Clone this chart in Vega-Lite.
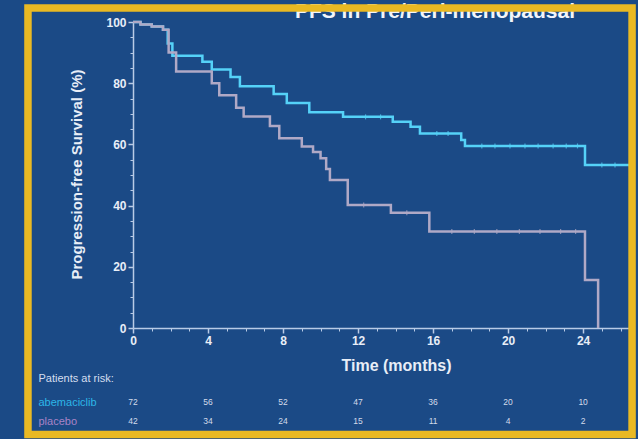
{
  "$schema": "https://vega.github.io/schema/vega-lite/v6.json",
  "width": 497,
  "height": 306,
  "autosize": {"type": "none"},
  "padding": {"left": 133, "top": 22, "right": 8, "bottom": 111},
  "background": "#1b4a86",
  "config": {"view": {"stroke": null}, "font": "Liberation Sans", "axis": {"grid": false}},
  "resolve": {"scale": {"y": "independent"}, "axis": {"x": "independent", "y": "independent"}},
  "layer": [
    {
      "data": {"values": [{"title": "PFS in Pre/Peri-menopausal"}]},
      "mark": {"type": "text", "fontSize": 21, "fontWeight": "bold", "color": "#f2f5fa", "baseline": "alphabetic", "align": "center", "clip": false},
      "encoding": {
        "x": {"datum": 16.1, "type": "quantitative", "scale": {"domain": [0, 26.5], "nice": false}, "axis": null},
        "y": {"datum": 101.2, "type": "quantitative", "scale": {"domain": [0, 100], "nice": false}, "axis": null},
        "text": {"field": "title"}
      }
    },
    {
      "data": {"values": [
        {"arm": "abemaciclib", "time": 0, "pfs": 100},
        {"arm": "abemaciclib", "time": 0.4, "pfs": 99.2},
        {"arm": "abemaciclib", "time": 1.0, "pfs": 98.5},
        {"arm": "abemaciclib", "time": 1.6, "pfs": 97.5},
        {"arm": "abemaciclib", "time": 1.85, "pfs": 93},
        {"arm": "abemaciclib", "time": 2.1, "pfs": 89},
        {"arm": "abemaciclib", "time": 3.7, "pfs": 87},
        {"arm": "abemaciclib", "time": 4.2, "pfs": 84.5},
        {"arm": "abemaciclib", "time": 5.2, "pfs": 82},
        {"arm": "abemaciclib", "time": 5.7, "pfs": 79},
        {"arm": "abemaciclib", "time": 7.5, "pfs": 76.5},
        {"arm": "abemaciclib", "time": 8.2, "pfs": 73.5},
        {"arm": "abemaciclib", "time": 9.4, "pfs": 70.5},
        {"arm": "abemaciclib", "time": 11.2, "pfs": 69},
        {"arm": "abemaciclib", "time": 13.85, "pfs": 67.4},
        {"arm": "abemaciclib", "time": 14.8, "pfs": 65.8},
        {"arm": "abemaciclib", "time": 15.3, "pfs": 63.6},
        {"arm": "abemaciclib", "time": 17.5, "pfs": 61.4},
        {"arm": "abemaciclib", "time": 17.7, "pfs": 59.5},
        {"arm": "abemaciclib", "time": 24.1, "pfs": 53.3},
        {"arm": "abemaciclib", "time": 26.5, "pfs": 53.3},
        {"arm": "placebo", "time": 0, "pfs": 100},
        {"arm": "placebo", "time": 0.4, "pfs": 99.2},
        {"arm": "placebo", "time": 1.0, "pfs": 98.5},
        {"arm": "placebo", "time": 1.6, "pfs": 97.5},
        {"arm": "placebo", "time": 1.9, "pfs": 90},
        {"arm": "placebo", "time": 2.3, "pfs": 83.8},
        {"arm": "placebo", "time": 4.2, "pfs": 80},
        {"arm": "placebo", "time": 4.6, "pfs": 76.1},
        {"arm": "placebo", "time": 5.5, "pfs": 72},
        {"arm": "placebo", "time": 5.9, "pfs": 69.1},
        {"arm": "placebo", "time": 7.3, "pfs": 66},
        {"arm": "placebo", "time": 7.8, "pfs": 62},
        {"arm": "placebo", "time": 9.0, "pfs": 59.3},
        {"arm": "placebo", "time": 9.6, "pfs": 57.5},
        {"arm": "placebo", "time": 10.0, "pfs": 55.5},
        {"arm": "placebo", "time": 10.3, "pfs": 52},
        {"arm": "placebo", "time": 10.5, "pfs": 48.4},
        {"arm": "placebo", "time": 11.45, "pfs": 40.2},
        {"arm": "placebo", "time": 13.75, "pfs": 37.7},
        {"arm": "placebo", "time": 15.8, "pfs": 31.5},
        {"arm": "placebo", "time": 24.1, "pfs": 15.7},
        {"arm": "placebo", "time": 24.8, "pfs": 0}
      ]},
      "mark": {"type": "line", "interpolate": "step-after", "strokeWidth": 2.5},
      "encoding": {
        "x": {"field": "time", "type": "quantitative", "scale": {"domain": [0, 26.5], "nice": false},
          "axis": {"orient": "bottom", "values": [0, 4, 8, 12, 16, 20, 24], "title": "Time (months)",
            "titleFontSize": 16, "titleFontWeight": "bold", "titleColor": "#e8eef7", "titleX": 263, "titleY": 37,
            "titleAlign": "center", "titleBaseline": "middle", "titleAnchor": null,
            "labelFontSize": 12, "labelFontWeight": "bold", "labelColor": "#e8eef7", "labelPadding": 2, "labelFlush": false,
            "tickSize": 5, "tickColor": "#b9cbe6", "tickWidth": 1.5, "domainColor": "#b9cbe6", "domainWidth": 1.5}},
        "y": {"field": "pfs", "type": "quantitative", "scale": {"domain": [0, 100], "nice": false},
          "axis": {"orient": "left", "values": [0, 20, 40, 60, 80, 100], "title": "Progression-free Survival (%)",
            "titleFontSize": 15, "titleFontWeight": "bold", "titleColor": "#e8eef7", "titleX": -57, "titleY": 152,
            "titleAngle": -90, "titleAlign": "center", "titleBaseline": "middle", "titleAnchor": null,
            "labelFontSize": 12, "labelFontWeight": "bold", "labelColor": "#e8eef7", "labelPadding": 2, "labelFlush": false,
            "tickSize": 5, "tickColor": "#b9cbe6", "tickWidth": 1.5, "domainColor": "#b9cbe6", "domainWidth": 1.5}},
        "color": {"field": "arm", "type": "nominal", "scale": {"domain": ["abemaciclib", "placebo"], "range": ["#55d2f8", "#b0a9c6"]}, "legend": null}
      }
    },
    {
      "data": {"values": [
        {"arm": "abemaciclib", "time": 12.4, "pfs": 69},
        {"arm": "abemaciclib", "time": 13.2, "pfs": 69},
        {"arm": "abemaciclib", "time": 16.2, "pfs": 63.6},
        {"arm": "abemaciclib", "time": 16.8, "pfs": 63.6},
        {"arm": "abemaciclib", "time": 18.6, "pfs": 59.5},
        {"arm": "abemaciclib", "time": 19.3, "pfs": 59.5},
        {"arm": "abemaciclib", "time": 20.1, "pfs": 59.5},
        {"arm": "abemaciclib", "time": 20.9, "pfs": 59.5},
        {"arm": "abemaciclib", "time": 21.6, "pfs": 59.5},
        {"arm": "abemaciclib", "time": 22.4, "pfs": 59.5},
        {"arm": "abemaciclib", "time": 23.1, "pfs": 59.5},
        {"arm": "abemaciclib", "time": 23.7, "pfs": 59.5},
        {"arm": "abemaciclib", "time": 25.0, "pfs": 53.3},
        {"arm": "abemaciclib", "time": 25.7, "pfs": 53.3},
        {"arm": "placebo", "time": 12.3, "pfs": 40.2},
        {"arm": "placebo", "time": 14.6, "pfs": 37.7},
        {"arm": "placebo", "time": 17.0, "pfs": 31.5},
        {"arm": "placebo", "time": 18.2, "pfs": 31.5},
        {"arm": "placebo", "time": 19.4, "pfs": 31.5},
        {"arm": "placebo", "time": 20.6, "pfs": 31.5},
        {"arm": "placebo", "time": 21.7, "pfs": 31.5},
        {"arm": "placebo", "time": 22.8, "pfs": 31.5},
        {"arm": "placebo", "time": 23.6, "pfs": 31.5}
      ]},
      "mark": {"type": "tick", "orient": "vertical", "size": 5, "thickness": 1.2},
      "encoding": {
        "x": {"field": "time", "type": "quantitative", "scale": {"domain": [0, 26.5], "nice": false}, "axis": null},
        "y": {"field": "pfs", "type": "quantitative", "scale": {"domain": [0, 100], "nice": false}, "axis": null},
        "color": {"field": "arm", "type": "nominal", "scale": {"domain": ["abemaciclib", "placebo"], "range": ["#55d2f8", "#b0a9c6"]}, "legend": null}
      }
    },
    {
      "data": {"values": [
        {"arm": "abemaciclib", "time": 0, "n": 72},
        {"arm": "abemaciclib", "time": 4, "n": 56},
        {"arm": "abemaciclib", "time": 8, "n": 52},
        {"arm": "abemaciclib", "time": 12, "n": 47},
        {"arm": "abemaciclib", "time": 16, "n": 36},
        {"arm": "abemaciclib", "time": 20, "n": 20},
        {"arm": "abemaciclib", "time": 24, "n": 10},
        {"arm": "placebo", "time": 0, "n": 42},
        {"arm": "placebo", "time": 4, "n": 34},
        {"arm": "placebo", "time": 8, "n": 24},
        {"arm": "placebo", "time": 12, "n": 15},
        {"arm": "placebo", "time": 16, "n": 11},
        {"arm": "placebo", "time": 20, "n": 4},
        {"arm": "placebo", "time": 24, "n": 2}
      ]},
      "mark": {"type": "text", "fontSize": 8.5, "color": "#d3dbea", "baseline": "middle", "align": "center", "clip": false},
      "encoding": {
        "x": {"field": "time", "type": "quantitative", "scale": {"domain": [0, 26.5], "nice": false}, "axis": null},
        "y": {"field": "arm", "type": "nominal", "scale": {"domain": ["abemaciclib", "placebo"], "range": [380, 399], "padding": 0},
          "axis": {"orient": "left", "domain": false, "ticks": false, "tickSize": 0, "labelPadding": 95, "labelAlign": "left",
            "labelBaseline": "middle", "labelFontSize": 11,
            "labelColor": {"condition": {"test": "datum.value === 'abemaciclib'", "value": "#2db6e8"}, "value": "#a983c6"},
            "title": "Patients at risk:", "titleAngle": 0, "titleAlign": "left", "titleBaseline": "middle", "titleAnchor": null,
            "titleX": -95, "titleY": 356, "titleFontSize": 11, "titleFontWeight": "normal", "titleColor": "#d5deef"}},
        "text": {"field": "n", "type": "quantitative"}
      }
    },
    {
      "data": {"values": [{"frame": "border"}]},
      "mark": {"type": "rect", "filled": false, "stroke": "#e9b923", "strokeWidth": 7.5, "clip": false},
      "encoding": {
        "x": {"datum": -5.6, "type": "quantitative", "scale": {"domain": [0, 26.5], "nice": false},
          "axis": {"orient": "bottom", "values": [1, 2, 3, 5, 6, 7, 9, 10, 11, 13, 14, 15, 17, 18, 19, 21, 22, 23, 25, 26],
            "labels": false, "title": null, "domain": false, "tickSize": 3, "tickColor": "#b9cbe6", "tickWidth": 1}},
        "x2": {"datum": 26.61},
        "y": {"datum": 104.6, "type": "quantitative", "scale": {"domain": [0, 100], "nice": false},
          "axis": {"orient": "left", "values": [5, 10, 15, 25, 30, 35, 45, 50, 55, 65, 70, 75, 85, 90, 95],
            "labels": false, "title": null, "domain": false, "tickSize": 3, "tickColor": "#b9cbe6", "tickWidth": 1}},
        "y2": {"datum": -34.8}
      }
    }
  ]
}
